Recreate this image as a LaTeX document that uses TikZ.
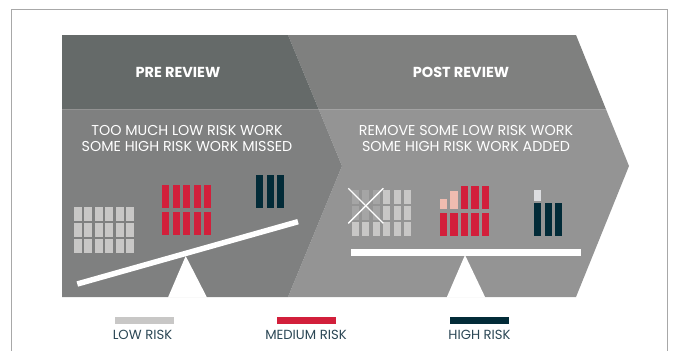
\documentclass[tikz,border=0pt]{standalone}
\usepackage{fontspec}
\setmainfont{Poppins}
\definecolor{frame}{HTML}{A8A8A8}
\definecolor{preHead}{HTML}{656A69}
\definecolor{postHead}{HTML}{7F807F}
\definecolor{preBody}{HTML}{7F8080}
\definecolor{postBody}{HTML}{949494}
\definecolor{lowC}{HTML}{C8C7C6}
\definecolor{fadeC}{HTML}{A5A5A5}
\definecolor{medC}{HTML}{D21F3B}
\definecolor{pinkC}{HTML}{F0BCB0}
\definecolor{highC}{HTML}{022B38}
\definecolor{paleC}{HTML}{DCDDE0}
\definecolor{legText}{HTML}{2B4755}
\tikzset{
  headtxt/.style={text=white,font=\fontsize{14.5}{16}\selectfont\bfseries,inner sep=0pt},
  bodytxt/.style={text=white,font=\fontsize{14.3}{17}\selectfont,align=center,inner sep=0pt},
  legtxt/.style={text=legText,font=\fontsize{13.2}{14}\selectfont,inner sep=0pt},
  beam/.style={white,line width=5.5pt},
}
\begin{document}
\begin{tikzpicture}[x=1pt,y=-1pt]
\useasboundingbox (0,0) rectangle (673,351);
% frame
\draw[frame,line width=1pt] (11.5,351) -- (11.5,9) -- (667,9) -- (667,351);
% chevrons
\fill[postHead] (288,35) -- (576,35) -- (605.9,109) -- (318.6,109) -- cycle;
\fill[postBody] (318.6,109) -- (605.9,109) -- (629,166) -- (576,297) -- (288,297) -- (342,166) -- cycle;
\fill[preHead] (62,35) -- (288,35) -- (318.6,109) -- (62,109) -- cycle;
\fill[preBody] (62,109) -- (318.6,109) -- (342,166) -- (288,297) -- (62,297) -- cycle;
\draw[white,opacity=0.15,line width=0.8pt] (62,109) -- (605.9,109);
% titles
\node[headtxt] (preT) at (178,72) {PRE REVIEW};
\node[headtxt] (postT) at (461,72) {POST REVIEW};
\node[bodytxt] (preB) at (187,138.5) {TOO MUCH LOW RISK WORK\\SOME HIGH RISK WORK MISSED};
\node[bodytxt] (postB) at (466,138.5) {REMOVE SOME LOW RISK WORK\\SOME HIGH RISK WORK ADDED};
% pre scale
\foreach \i in {0,...,5}{\foreach \j in {0,1,2}{
  \fill[lowC] ({74+\i*10.4},{206.7+\j*16}) rectangle ++(8,14.3);}}
\foreach \i in {0,...,4}{\foreach \j in {0,1}{
  \fill[medC] ({162+\i*10.5},{185+\j*26.7}) rectangle ++(7,22.9);}}
\foreach \i in {0,1,2}{\fill[highC] ({256+\i*10.5},175) rectangle ++(7,32.7);}
\draw[beam] (77.3,284) -- (298,221.7);
\fill[white] (185.7,256) -- (207,297.5) -- (168,297.5) -- cycle;
% post scale
\foreach \i in {0,...,5}{\foreach \j in {0,1,2}{
  \fill[lowC] ({352+\i*10.4},{190+\j*16}) rectangle ++(7,13.7);}}
\foreach \i in {0,1,2}{\foreach \j in {0,1}{
  \fill[fadeC] ({352+\i*10.4},{190+\j*16}) rectangle ++(7,13.7);}}
\draw[white,line width=1.4pt] (348.3,188.3) -- (383.3,223.3);
\draw[white,line width=1.4pt] (383.3,188.3) -- (348.3,223.3);
\foreach \i in {0,...,4}{\fill[medC] ({440+\i*10.45},212.7) rectangle ++(7.3,23);}
\fill[pinkC] (440,198.7) rectangle ++(7.3,10.3);
\fill[pinkC] (450.45,191) rectangle ++(7.3,18);
\foreach \i in {2,3,4}{\fill[medC] ({440+\i*10.45},185.7) rectangle ++(7.3,23.3);}
\fill[paleC] (534,190) rectangle (541,200.7);
\foreach \i in {0,1,2}{\fill[highC] ({534+\i*10.5},202.7) rectangle ++(7,33);}
\fill[white] (350.7,249) rectangle (580.7,255.7);
\fill[white] (465,255) -- (485.3,297.5) -- (446.7,297.5) -- cycle;
% legend
\fill[lowC] (115,316.7) rectangle (174,324);
\fill[medC] (276.7,316.7) rectangle (336,324);
\fill[highC] (450,316.7) rectangle (509,324);
\node[legtxt] (lowL) at (142.5,334.5) {LOW RISK};
\node[legtxt] (medL) at (306,334.5) {MEDIUM RISK};
\node[legtxt] (highL) at (479.5,334.5) {HIGH RISK};
\end{tikzpicture}
\end{document}
